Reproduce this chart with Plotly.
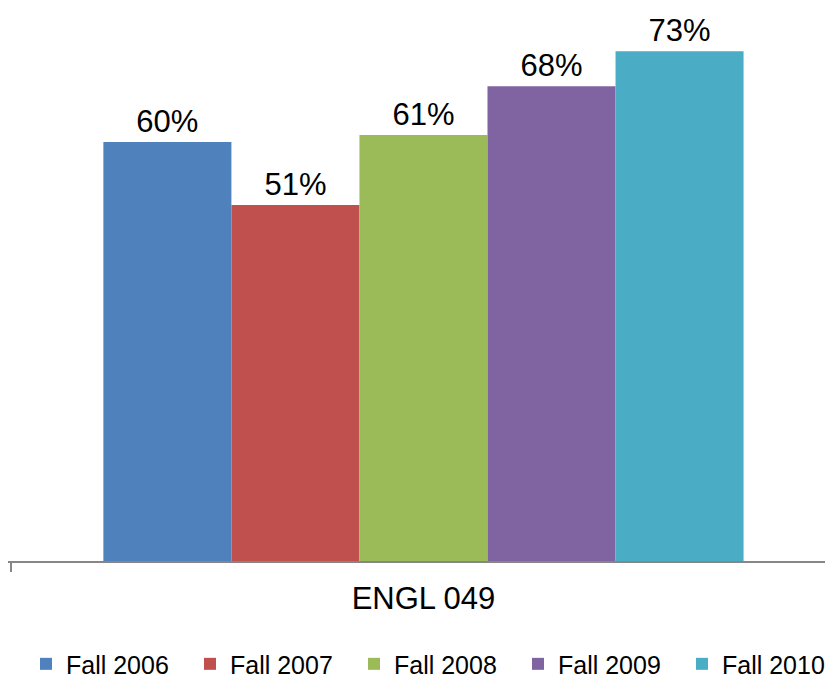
import plotly.graph_objects as go

categories = ["ENGL 049"]
series_names = ["Fall 2006", "Fall 2007", "Fall 2008", "Fall 2009", "Fall 2010"]
series_values = [0.60, 0.51, 0.61, 0.68, 0.73]
colors = ["#4F81BD", "#C0504D", "#9BBB59", "#8064A2", "#4BACC6"]

fig = go.Figure()
for name, val, col in zip(series_names, series_values, colors):
    fig.add_trace(go.Bar(
        name=name, x=categories, y=[val], marker=dict(color=col, line=dict(width=0)),
        text=[f"{val:.0%}"], textposition="outside",
        textfont=dict(family="Liberation Sans, Arial", size=31, color="#000000"),
        cliponaxis=False,
    ))

fig.update_layout(
    width=825, height=680,
    margin=dict(l=0, r=0, t=0, b=127, autoexpand=False),
    paper_bgcolor="white", plot_bgcolor="white",
    barmode="group", bargap=0.224, bargroupgap=0,
    showlegend=True,
    legend=dict(orientation="h", x=0.0218, xanchor="left", y=-0.228, yanchor="bottom",
                entrywidth=119, entrywidthmode="pixels",
                font=dict(family="Liberation Sans, Arial", size=25, color="#000000"),
                traceorder="normal", itemwidth=30),
    xaxis=dict(range=[-0.5036, 0.4964], showline=True, linecolor="#868686", linewidth=2,
               ticks="outside", tickson="boundaries", ticklen=9, tickcolor="#868686", tickwidth=2,
               ticklabelstandoff=9,
               tickfont=dict(family="Liberation Sans, Arial", size=31, color="#000000"),
               showgrid=False),
    yaxis=dict(range=[0, 0.792], visible=False, showgrid=False, zeroline=False),
)
fig.write_html("out.html")
